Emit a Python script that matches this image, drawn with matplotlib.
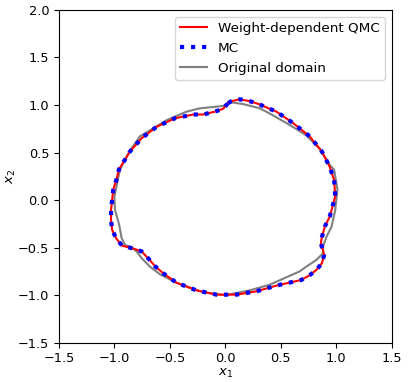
import matplotlib
matplotlib.use("Agg")
import matplotlib.pyplot as plt

# Weight-dependent QMC boundary
qmc_x = [0.025, 0.055, 0.13, 0.22, 0.30, 0.46, 0.61, 0.76, 0.87, 0.94, 0.98, 0.99, 0.957, 0.94, 0.896, 0.87,
         0.86, 0.88, 0.89, 0.87, 0.82, 0.76, 0.685, 0.46, 0.28, 0.10, -0.08, -0.26, -0.44, -0.56, -0.63,
         -0.69, -0.755, -0.83, -0.93, -0.98, -1.02, -1.03, -1.03, -1.01, -0.98, -0.96, -0.86, -0.755,
         -0.62, -0.455, -0.29, -0.20, -0.095, -0.02, 0.025]
qmc_y = [1.02, 1.04, 1.06, 1.04, 1.01, 0.93, 0.81, 0.67, 0.51, 0.35, 0.21, 0.04, -0.105, -0.175, -0.28, -0.39,
         -0.455, -0.53, -0.58, -0.665, -0.735, -0.79, -0.84, -0.90, -0.96, -0.995, -0.995, -0.95, -0.87, -0.77,
         -0.70, -0.62, -0.54, -0.51, -0.48, -0.41, -0.315, -0.21, -0.10, 0.11, 0.22, 0.32, 0.51, 0.65,
         0.77, 0.86, 0.90, 0.90, 0.93, 0.96, 1.02]

# MC boundary
mc_x = [0.025, 0.055, 0.13, 0.22, 0.30, 0.46, 0.61, 0.76, 0.87, 0.94, 0.98, 0.99, 0.957, 0.94, 0.896, 0.87,
        0.86, 0.88, 0.89, 0.87, 0.82, 0.76, 0.685, 0.46, 0.28, 0.10, -0.08, -0.26, -0.44, -0.56, -0.63,
        -0.69, -0.755, -0.83, -0.93, -0.98, -1.02, -1.03, -1.03, -1.01, -0.98, -0.96, -0.86, -0.755,
        -0.62, -0.455, -0.29, -0.20, -0.095, -0.02, 0.025]
mc_y = [1.02, 1.04, 1.06, 1.04, 1.01, 0.93, 0.81, 0.67, 0.51, 0.35, 0.21, 0.04, -0.105, -0.175, -0.28, -0.39,
        -0.455, -0.53, -0.58, -0.665, -0.735, -0.79, -0.84, -0.90, -0.96, -0.995, -0.995, -0.95, -0.87, -0.77,
        -0.70, -0.62, -0.54, -0.51, -0.48, -0.41, -0.315, -0.21, -0.10, 0.11, 0.22, 0.32, 0.51, 0.65,
        0.77, 0.86, 0.90, 0.90, 0.93, 0.96, 1.02]

# Original domain boundary
orig_x = [0.04, 0.16, 0.31, 0.40, 0.58, 0.73, 0.85, 0.94, 0.98, 1.01, 0.99, 0.957, 0.91, 0.88, 0.88, 0.82,
          0.73, 0.67, 0.40, 0.22, 0.00, -0.20, -0.44, -0.59, -0.68, -0.755, -0.80, -0.845, -0.905, -0.935,
          -0.957, -0.995, -1.00, -0.95, -0.86, -0.77, -0.53, -0.35, -0.23, -0.02, 0.04]
orig_y = [1.03, 1.01, 0.965, 0.91, 0.79, 0.68, 0.54, 0.37, 0.32, 0.11, -0.105, -0.28, -0.39, -0.49, -0.56, -0.63,
          -0.70, -0.75, -0.89, -0.95, -1.00, -0.97, -0.87, -0.78, -0.70, -0.61, -0.54, -0.50, -0.47, -0.40,
          -0.26, -0.10, 0.035, 0.32, 0.52, 0.67, 0.84, 0.93, 0.965, 0.99, 1.03]

fig = plt.figure(figsize=(4.09, 3.82), dpi=100)
ax = fig.add_axes([0.144, 0.103, 0.814, 0.871])

h_orig, = ax.plot(orig_x, orig_y, color="gray", lw=1.5, label="Original domain")
h_qmc, = ax.plot(qmc_x, qmc_y, color="red", lw=1.5, label="Weight-dependent QMC")
h_mc, = ax.plot(mc_x, mc_y, color="blue", lw=3, ls=":", label="MC")

ax.set_xlim(-1.5, 1.5)
ax.set_ylim(-1.5, 2.0)
ax.set_xticks([-1.5, -1.0, -0.5, 0.0, 0.5, 1.0, 1.5])
ax.set_yticks([-1.5, -1.0, -0.5, 0.0, 0.5, 1.0, 1.5, 2.0])
ax.tick_params(labelsize=9.3)
ax.set_xlabel(r"$x_1$", fontsize=9.5, labelpad=1)
ax.set_ylabel(r"$x_2$", fontsize=9.5, labelpad=0)
ax.legend(handles=[h_qmc, h_mc, h_orig], loc="upper right", fontsize=9.7)

fig.savefig("out.png", dpi=100)
